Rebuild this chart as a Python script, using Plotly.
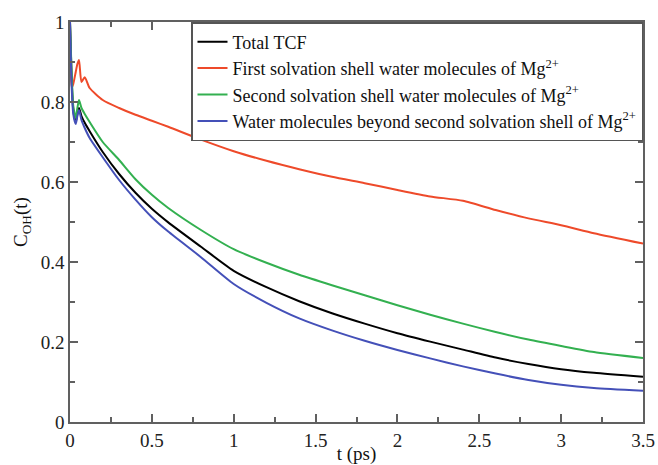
import plotly.graph_objects as go

# Time axis (ps) shared by all series
t_ps = [0, 0.01, 0.02, 0.035, 0.045, 0.055, 0.07, 0.09, 0.12, 0.2, 0.3, 0.4, 0.5, 0.6, 0.8,
        1.0, 1.2, 1.4, 1.6, 1.8, 2.0, 2.2, 2.4, 2.6, 2.8, 3.0, 3.2, 3.5]

c_total = [1.0, 0.86, 0.78, 0.75, 0.77, 0.785, 0.765, 0.748, 0.727, 0.675, 0.62, 0.573, 0.533, 0.499,
           0.438, 0.378, 0.337, 0.302, 0.272, 0.246, 0.222, 0.201, 0.181, 0.161, 0.145, 0.132, 0.123, 0.113]

c_first = [1.0, 0.835, 0.845, 0.875, 0.895, 0.905, 0.85, 0.862, 0.835, 0.805, 0.785, 0.768, 0.753, 0.738,
           0.706, 0.677, 0.653, 0.632, 0.613, 0.597, 0.58, 0.564, 0.553, 0.53, 0.509, 0.492, 0.472, 0.446]

c_second = [1.0, 0.87, 0.79, 0.76, 0.785, 0.805, 0.785, 0.77, 0.75, 0.70, 0.655, 0.607, 0.568, 0.535,
            0.48, 0.432, 0.398, 0.368, 0.342, 0.317, 0.292, 0.268, 0.246, 0.225, 0.206, 0.19, 0.175, 0.16]

c_beyond = [1.0, 0.84, 0.77, 0.745, 0.765, 0.78, 0.755, 0.735, 0.71, 0.662, 0.605, 0.556, 0.512, 0.476,
            0.412, 0.345, 0.298, 0.259, 0.229, 0.203, 0.18, 0.159, 0.139, 0.121, 0.105, 0.093, 0.085, 0.078]

names = ["Total TCF",
         "First solvation shell water molecules of Mg<sup>2+</sup>",
         "Second solvation shell water molecules of Mg<sup>2+</sup>",
         "Water molecules beyond second solvation shell of Mg<sup>2+</sup>"]
colors = ["#000000", "#ee4a2a", "#33b050", "#4450b8"]

series = [c_total, c_first, c_second, c_beyond]

fig = go.Figure()
for cy, nm, col in zip(series, names, colors):
    fig.add_trace(go.Scatter(x=t_ps, y=cy, mode="lines", name=nm,
                             line=dict(color=col, width=2, shape="spline", smoothing=0.6)))

FONT = "Times New Roman, Liberation Serif, serif"
axis_common = dict(showline=True, linecolor="#606060", linewidth=1.5, mirror="ticks",
                   ticks="inside", ticklen=8, tickwidth=1.5, tickcolor="#606060",
                   showgrid=False, zeroline=False, automargin=False,
                   tickfont=dict(family=FONT, size=19, color="#222"))

fig.update_layout(
    width=658, height=465,
    margin=dict(l=70, r=15, t=22, b=43),
    paper_bgcolor="white", plot_bgcolor="white",
    font=dict(family=FONT, color="#111"),
    xaxis=dict(range=[0, 3.5], dtick=0.5, tick0=0,
               minor=dict(dtick=0.25, ticks="inside", ticklen=5, tickcolor="#606060", tickwidth=1.5),
               title=dict(text="t (ps)", font=dict(family=FONT, size=19, color="#111"), standoff=2),
               **axis_common),
    yaxis=dict(range=[0, 1], dtick=0.2, tick0=0,
               minor=dict(dtick=0.1, ticks="inside", ticklen=5, tickcolor="#606060", tickwidth=1.5),
               title=dict(text="C<sub>OH</sub>(t)", font=dict(family=FONT, size=19, color="#111"), standoff=8),
               **axis_common),
    legend=dict(x=1, y=1, xanchor="right", yanchor="top",
                bgcolor="white", bordercolor="#555", borderwidth=1.5,
                font=dict(family=FONT, size=18, color="#111"),
                tracegroupgap=0, itemwidth=30),
    showlegend=True,
)

fig.write_html("out.html")
